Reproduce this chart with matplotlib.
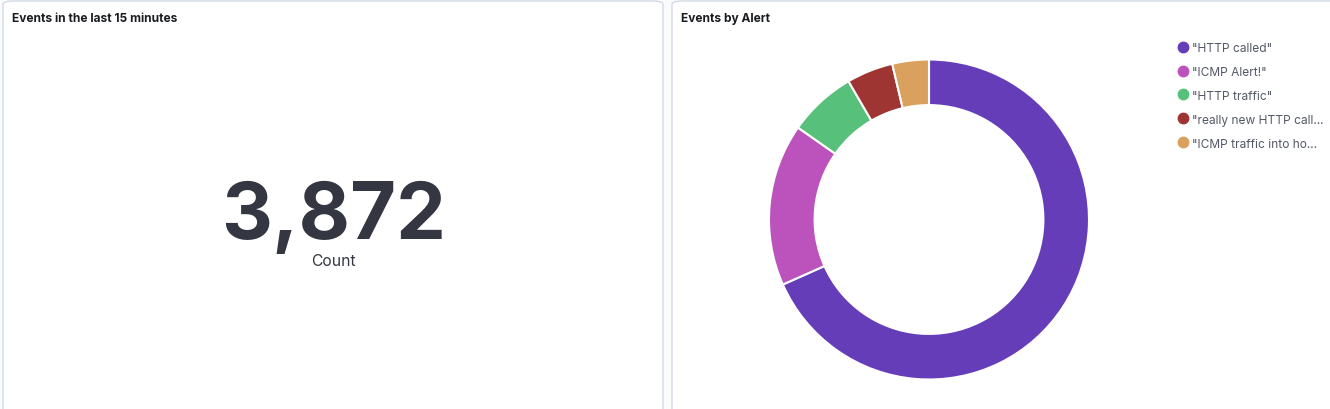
import matplotlib
import matplotlib.pyplot as plt
from matplotlib.lines import Line2D
from matplotlib.patches import FancyBboxPatch

matplotlib.use("agg")
plt.rcParams["font.family"] = ["Inter", "DejaVu Sans"]

W, H = 1330, 410

# metric panel
metric_title = "Events in the last 15 minutes"
metric_value = 3872
metric_label = "Count"

# donut panel
pie_title = "Events by Alert"
alerts = ['"HTTP called"', '"ICMP Alert!"', '"HTTP traffic"',
          '"really new HTTP call...', '"ICMP traffic into ho...']
counts = [2646, 635, 266, 182, 143]
colors = ["#663db8", "#bc52bc", "#57c17b", "#9e3533", "#daa05d"]


def px_box(x0, y0, w, h):
    """pixel box (top-left origin) -> figure fraction rect"""
    return [x0 / W, 1 - (y0 + h) / H, w / W, h / H]


fig = plt.figure(figsize=(W / 100, H / 100), dpi=100)
fig.patch.set_facecolor("#fafbfd")

# panels
for x0, x1 in [(3, 663), (672, 1345)]:
    r = px_box(x0, 2, x1 - x0, 430)
    fig.patches.append(FancyBboxPatch(
        (r[0], r[1]), r[2], r[3], boxstyle="round,pad=0,rounding_size=0.008",
        transform=fig.transFigure, facecolor="white", edgecolor="#d3dae6",
        linewidth=1.0, zorder=-5))

fig.text(12 / W, 1 - 19 / H, metric_title, fontsize=8.6, fontweight="bold",
         color="#1a1c21", va="center", ha="left")
fig.text(681 / W, 1 - 19 / H, pie_title, fontsize=8.6, fontweight="bold",
         color="#1a1c21", va="center", ha="left")

# big metric
fig.text(334 / W, 1 - 218 / H, f"{metric_value:,}", fontsize=57,
         fontweight="bold", color="#343741", ha="center", va="center")
fig.text(333 / W, 1 - 261 / H, metric_label, fontsize=11.3,
         color="#343741", ha="center", va="center")

# donut
R = 160
ax = fig.add_axes(px_box(929 - 165, 220.5 - 165, 330, 330))
ax.pie(counts, colors=colors, startangle=90, counterclock=False,
       radius=1, wedgeprops=dict(width=0.285, edgecolor="white", linewidth=1.5))
lim = 165 / R
ax.set_xlim(-lim, lim)
ax.set_ylim(-lim, lim)
ax.set_aspect("equal")
ax.axis("off")

handles = [Line2D([], [], marker="o", linestyle="none", markersize=7.5,
                  markerfacecolor=c, markeredgecolor=c) for c in colors]
fig.legend(handles, alerts, loc="upper left",
           bbox_to_anchor=(1172 / W, 1 - 38 / H), frameon=False,
           fontsize=8.6, labelcolor="#535966", handletextpad=0.15,
           handlelength=1.1, labelspacing=1.0, borderaxespad=0)

fig.savefig("out.png", dpi=100, facecolor=fig.get_facecolor())
